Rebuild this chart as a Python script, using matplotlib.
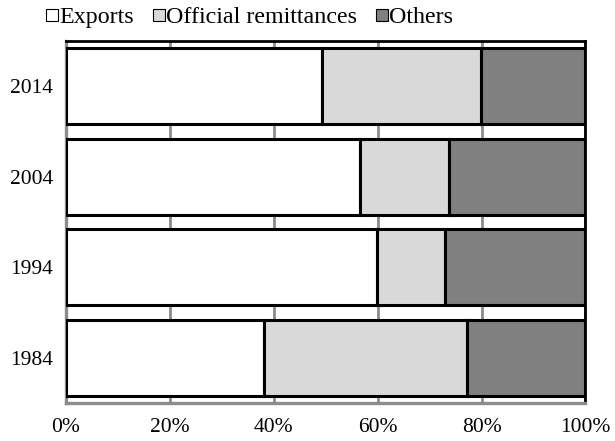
import matplotlib
matplotlib.use("Agg")
import matplotlib.pyplot as plt
from matplotlib.lines import Line2D
import numpy as np

years = ["1984", "1994", "2004", "2014"]
exports = [38.1, 59.9, 56.5, 49.2]
official = [39.1, 13.0, 17.3, 30.7]
others = [22.8, 27.1, 26.2, 20.1]

series = ["Exports", "Official remittances", "Others"]
colors = ["#ffffff", "#d9d9d9", "#808080"]

plt.rcParams["font.family"] = ["Liberation Serif", "DejaVu Serif"]

fig = plt.figure(figsize=(6.15, 4.41), dpi=100)
ax = fig.add_axes([0.1073, 0.0862, 0.8447, 0.8208])

y = np.arange(len(years))
left = np.zeros(len(years))
for vals, col, name in zip([exports, official, others], colors, series):
    ax.barh(y, vals, left=left, height=0.84, color=col, edgecolor="black",
            linewidth=2.2, label=name, zorder=3)
    left += np.array(vals)

ax.set_xlim(0, 100)
ax.set_ylim(-0.5, len(years) - 0.5)
ax.set_yticks(y)
ax.set_yticklabels(years)
ax.set_xticks([0, 20, 40, 60, 80, 100])
ax.set_xticklabels([f"{v}%" for v in [0, 20, 40, 60, 80, 100]])
ax.tick_params(axis="both", length=0, labelsize=15.5)
ax.tick_params(axis="y", pad=9)
ax.tick_params(axis="x", pad=11)

ax.xaxis.grid(True, color="#8c8c8c", linewidth=2.0, zorder=0)
ax.set_axisbelow(True)

for s in ["left", "bottom"]:
    ax.spines[s].set_color("#8c8c8c")
    ax.spines[s].set_linewidth(2.4)
for s in ["top", "right"]:
    ax.spines[s].set_color("black")
    ax.spines[s].set_linewidth(2.0)

handles = [Line2D([], [], marker="s", linestyle="none", markersize=9,
                  markerfacecolor=c, markeredgecolor="black",
                  markeredgewidth=0.8) for c in colors]
fig.legend(handles, series, loc="upper left", bbox_to_anchor=(0.068, 0.997),
           ncol=3, frameon=False, fontsize=17.3, handlelength=0.45,
           handletextpad=0.08, columnspacing=0.8, borderaxespad=0.0,
           borderpad=0.2)

fig.savefig("out.png", dpi=100)
